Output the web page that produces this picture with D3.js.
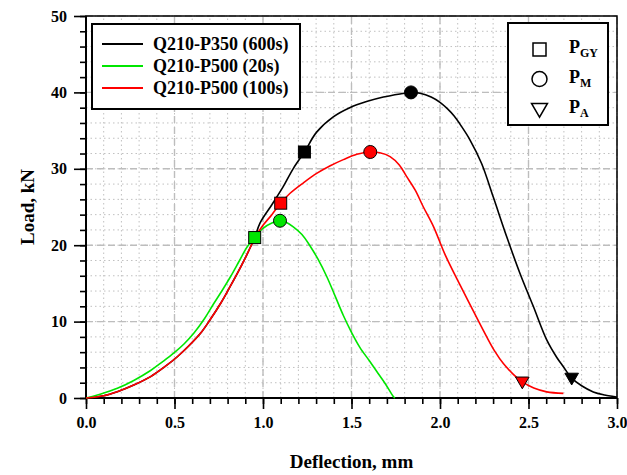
<!DOCTYPE html>
<html>
<head>
<meta charset="utf-8">
<script src="https://cdn.jsdelivr.net/npm/d3@7/dist/d3.min.js"></script>
<style>
  body { margin: 0; background: #fff; }
  text { font-family: "Liberation Serif", "Times New Roman", serif; font-weight: bold; }
</style>
</head>
<body>
<svg id="chart" width="627" height="475"></svg>
<script>
// courbes charge-flèche (mm, kN)
const p350_600 = [[0,0],[0.1,0.3],[0.177,0.83],[0.27,1.7],[0.365,2.8],[0.44,4.0],[0.516,5.4],[0.58,6.8],[0.648,8.5],[0.70,10.2],[0.761,12.4],[0.81,14.4],[0.855,16.3],[0.893,18.0],[0.93,19.8],[0.953,21.0],[0.983,22.9],[1.05,25.3],[1.115,27.7],[1.17,30.0],[1.234,32.2],[1.303,34.8],[1.397,36.8],[1.49,38.0],[1.585,38.8],[1.68,39.4],[1.774,39.8],[1.836,40.0],[1.887,39.9],[1.95,39.4],[2.0,38.7],[2.04,37.9],[2.08,36.9],[2.12,35.6],[2.169,33.8],[2.235,30.7],[2.301,26.3],[2.377,21.1],[2.452,16.3],[2.527,12.0],[2.603,7.6],[2.66,5.3],[2.697,4.1],[2.744,2.6],[2.80,1.6],[2.866,0.8],[2.93,0.4],[2.98,0.2],[3.0,0.1]]
const p500_20 = [[0,0],[0.08,0.5],[0.177,1.27],[0.27,2.3],[0.365,3.6],[0.43,4.7],[0.497,5.9],[0.555,7.1],[0.61,8.5],[0.67,10.4],[0.723,12.4],[0.77,14.1],[0.817,15.9],[0.865,17.9],[0.911,19.8],[0.953,21.0],[1.0,22.2],[1.05,22.9],[1.096,23.2],[1.13,23.0],[1.171,22.4],[1.22,21.4],[1.266,19.9],[1.31,18.2],[1.36,15.9],[1.41,13.2],[1.454,10.8],[1.50,8.6],[1.548,6.6],[1.60,4.9],[1.642,3.5],[1.69,1.9],[1.736,0.2],[1.745,0]]
const p500_100 = [[0,0],[0.1,0.3],[0.177,0.83],[0.27,1.7],[0.365,2.8],[0.44,4.0],[0.516,5.4],[0.58,6.8],[0.648,8.5],[0.70,10.2],[0.761,12.4],[0.81,14.4],[0.855,16.3],[0.893,18.0],[0.93,19.8],[0.96,21.2],[1.0,22.6],[1.05,24.0],[1.10,25.5],[1.153,26.8],[1.23,28.2],[1.303,29.4],[1.38,30.4],[1.454,31.2],[1.53,31.9],[1.606,32.2],[1.66,32.1],[1.718,31.6],[1.77,30.5],[1.811,29.0],[1.86,27.2],[1.906,25.0],[1.962,22.5],[2.03,18.7],[2.113,14.8],[2.188,11.4],[2.264,8.0],[2.31,6.1],[2.358,4.5],[2.41,3.2],[2.465,2.1],[2.53,1.3],[2.603,0.8],[2.697,0.6]]

const seriesNames = ["Q210-P350 (600s)", "Q210-P500 (20s)", "Q210-P500 (100s)"]
const seriesColors = ["#000000", "#00e600", "#ff0000"]

// points caractéristiques [x, y, index série]
const gyPoints = [[1.234,32.2,0],[0.953,21.0,1],[1.10,25.5,2]]
const maxPoints = [[1.836,40.0,0],[1.096,23.2,1],[1.606,32.2,2]]
const aPoints = [[2.744,2.6,0],[2.465,2.1,2]]

const xTicks = [0, 0.5, 1.0, 1.5, 2.0, 2.5, 3.0]
const yTicks = [0, 10, 20, 30, 40, 50]

const svg = d3.select("#chart")
const margin = {left: 86, top: 16, right: 10, bottom: 77}
const W = 627, H = 475
const x = d3.scaleLinear().domain([0, 3]).range([margin.left, W - margin.right])
const y = d3.scaleLinear().domain([0, 50]).range([H - margin.bottom, margin.top])

const xMinor = d3.range(0, 3.0001, 0.1)
const yMinor = d3.range(0, 50.001, 2)

// grille
const grid = svg.append("g")
grid.selectAll(".vmin").data(xMinor).join("line")
    .attr("x1", d => x(d)).attr("x2", d => x(d)).attr("y1", y(0)).attr("y2", y(50))
    .attr("stroke", "#c0c0c0").attr("stroke-width", 1).attr("stroke-dasharray", "1.5,3")
grid.selectAll(".hmin").data(yMinor).join("line")
    .attr("y1", d => y(d)).attr("y2", d => y(d)).attr("x1", x(0)).attr("x2", x(3))
    .attr("stroke", "#c0c0c0").attr("stroke-width", 1).attr("stroke-dasharray", "1.5,3")
grid.selectAll(".vmaj").data(xTicks).join("line")
    .attr("x1", d => x(d)).attr("x2", d => x(d)).attr("y1", y(0)).attr("y2", y(50))
    .attr("stroke", "#bdbdbd").attr("stroke-width", 1.4).attr("stroke-dasharray", "7,4")
grid.selectAll(".hmaj").data(yTicks).join("line")
    .attr("y1", d => y(d)).attr("y2", d => y(d)).attr("x1", x(0)).attr("x2", x(3))
    .attr("stroke", "#bdbdbd").attr("stroke-width", 1.4).attr("stroke-dasharray", "7,4")

// cadre
svg.append("rect").attr("x", x(0)).attr("y", y(50)).attr("width", x(3) - x(0)).attr("height", y(0) - y(50))
    .attr("fill", "none").attr("stroke", "#000").attr("stroke-width", 1.5)

// axes
svg.append("g").attr("transform", `translate(0,${y(0)})`)
    .call(d3.axisBottom(x).tickValues(xMinor).tickSize(6).tickFormat(""))
svg.append("g").attr("transform", `translate(0,${y(0)})`)
    .call(d3.axisBottom(x).tickValues(xTicks).tickSize(11).tickPadding(8).tickFormat(d3.format(".1f")))
svg.append("g").attr("transform", `translate(${x(0)},0)`)
    .call(d3.axisLeft(y).tickValues(yMinor).tickSize(6).tickFormat(""))
svg.append("g").attr("transform", `translate(${x(0)},0)`)
    .call(d3.axisLeft(y).tickValues(yTicks).tickSize(12).tickPadding(7).tickFormat(d3.format("d")))

svg.selectAll(".domain").attr("d", null)
svg.selectAll(".tick line").attr("stroke-width", 1.6)
svg.selectAll(".tick text").style("font-size", "16px").style("font-family", "'Liberation Serif', serif").style("font-weight", "bold").attr("fill", "#000")

svg.append("line").attr("x1", x(0)).attr("x2", x(3)).attr("y1", y(0)).attr("y2", y(0)).attr("stroke", "#000").attr("stroke-width", 2)
svg.append("line").attr("x1", x(0)).attr("x2", x(0)).attr("y1", y(0)).attr("y2", y(50)).attr("stroke", "#000").attr("stroke-width", 2)

// titres
svg.append("text").attr("x", (x(0) + x(3)) / 2).attr("y", 468).attr("text-anchor", "middle")
    .style("font-size", "19px").text("Deflection, mm")
svg.append("text").attr("transform", `translate(34,${(y(0) + y(50)) / 2}) rotate(-90)`).attr("text-anchor", "middle")
    .style("font-size", "19px").text("Load, kN")

// courbes
const line = d3.line().x(d => x(d[0])).y(d => y(d[1])).curve(d3.curveCatmullRom.alpha(0.5))
const allSeries = [p350_600, p500_20, p500_100]
svg.selectAll(".curve").data(allSeries).join("path")
    .attr("d", line).attr("fill", "none")
    .attr("stroke", (d, i) => seriesColors[i]).attr("stroke-width", 1.6)

// marqueurs
svg.selectAll(".gy").data(gyPoints).join("rect")
    .attr("x", d => x(d[0]) - 6).attr("y", d => y(d[1]) - 6).attr("width", 12).attr("height", 12)
    .attr("fill", d => seriesColors[d[2]]).attr("stroke", "#000").attr("stroke-width", 1)
svg.selectAll(".pm").data(maxPoints).join("circle")
    .attr("cx", d => x(d[0])).attr("cy", d => y(d[1])).attr("r", 6.5)
    .attr("fill", d => seriesColors[d[2]]).attr("stroke", "#000").attr("stroke-width", 1)
const tri = d3.symbol().type(d3.symbolTriangle).size(80)
svg.selectAll(".pa").data(aPoints).join("path")
    .attr("d", tri)
    .attr("transform", d => `translate(${x(d[0])},${y(d[1]) - 1}) rotate(180)`)
    .attr("fill", d => seriesColors[d[2]]).attr("stroke", "#000").attr("stroke-width", 1)

// légende séries
const leg = svg.append("g")
leg.append("rect").attr("x", 92).attr("y", 24).attr("width", 208).attr("height", 85)
    .attr("fill", "#fff").attr("stroke", "#000").attr("stroke-width", 2)
seriesNames.forEach((name, i) => {
    const ly = 44 + i * 22
    leg.append("line").attr("x1", 102).attr("x2", 143).attr("y1", ly).attr("y2", ly)
        .attr("stroke", seriesColors[i]).attr("stroke-width", 2)
    leg.append("text").attr("x", 153).attr("y", ly + 6).style("font-size", "18px").text(name)
})

// légende symboles
const leg2 = svg.append("g")
leg2.append("rect").attr("x", 508).attr("y", 23).attr("width", 100).attr("height", 102)
    .attr("fill", "#fff").attr("stroke", "#000").attr("stroke-width", 2)
leg2.append("rect").attr("x", 533).attr("y", 43).attr("width", 13).attr("height", 13)
    .attr("fill", "#fff").attr("stroke", "#000").attr("stroke-width", 1.5)
leg2.append("circle").attr("cx", 539.5).attr("cy", 79).attr("r", 7.5)
    .attr("fill", "#fff").attr("stroke", "#000").attr("stroke-width", 1.5)
leg2.append("path").attr("d", d3.symbol().type(d3.symbolTriangle).size(110))
    .attr("transform", "translate(539.5,108) rotate(180)")
    .attr("fill", "#fff").attr("stroke", "#000").attr("stroke-width", 1.5)
const subs = ["GY", "M", "A"]
const subY = [53, 83, 113]
subs.forEach((s, i) => {
    const t = leg2.append("text").attr("x", 569).attr("y", subY[i]).style("font-size", "18px")
    t.append("tspan").text("P")
    t.append("tspan").attr("dy", 4).style("font-size", "12px").text(s)
})
</script>
</body>
</html>
